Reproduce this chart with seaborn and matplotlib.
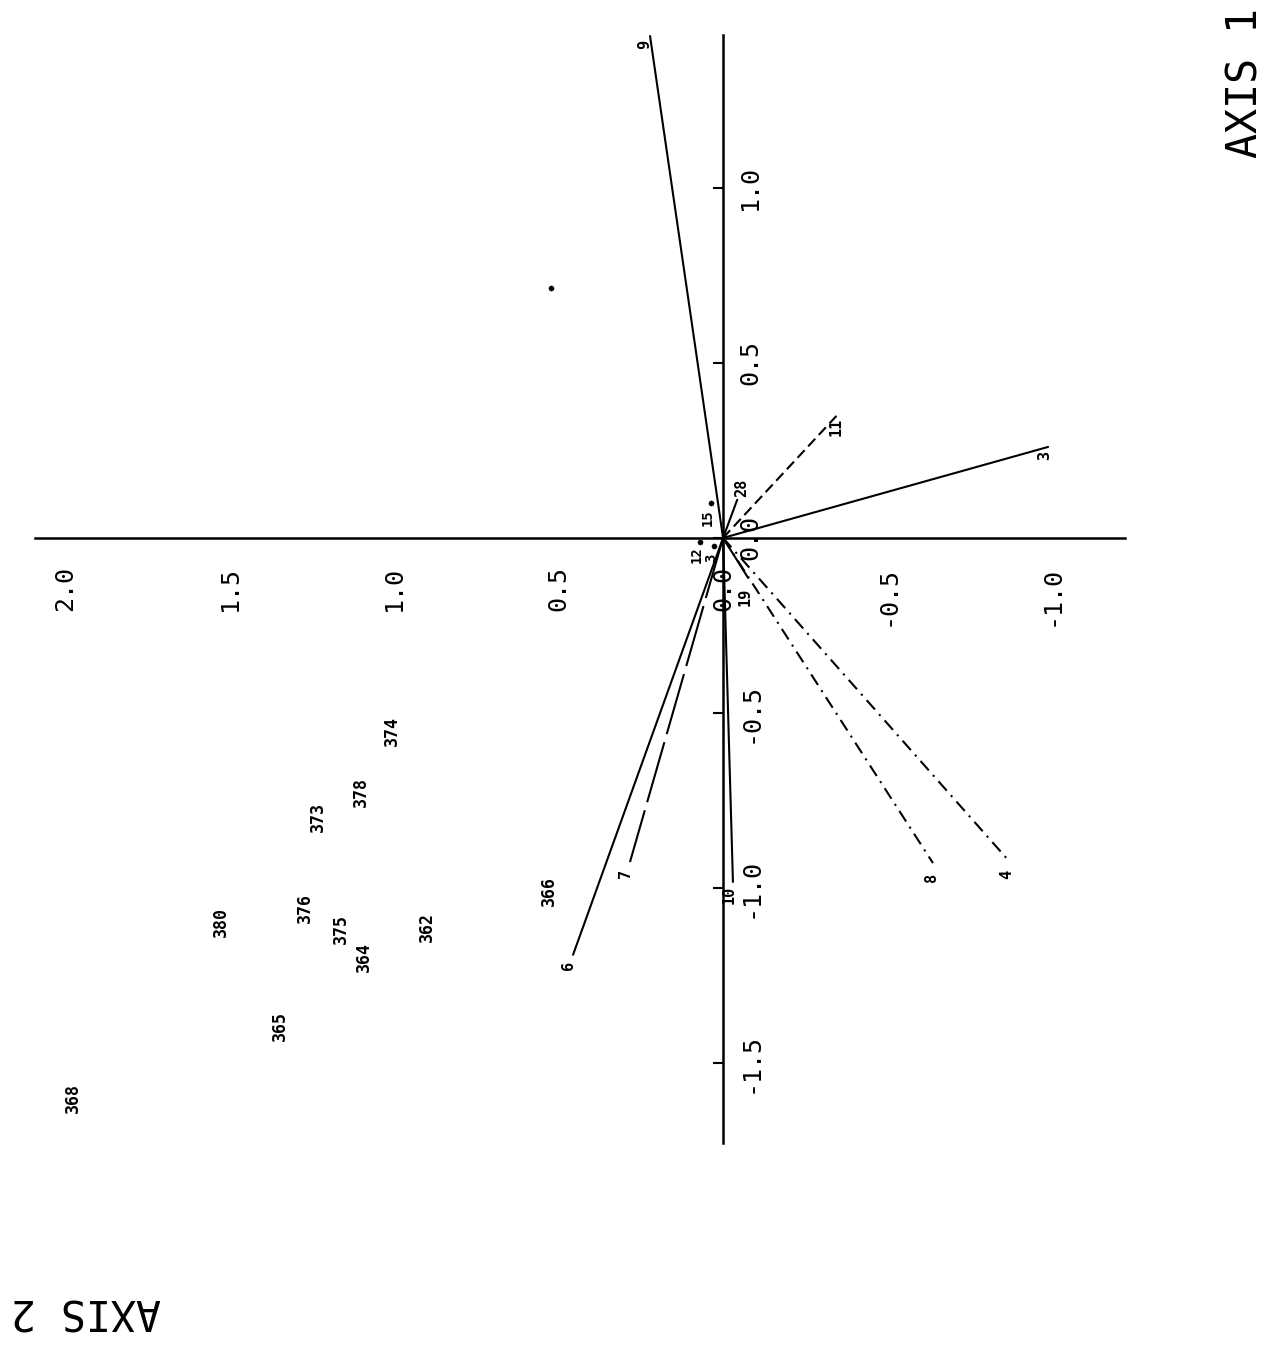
import matplotlib
matplotlib.use("Agg")
import matplotlib.pyplot as plt
import pandas as pd
import seaborn as sns

sns.set_style("white")
plt.rcParams['font.family'] = ['DejaVu Sans Mono', 'DejaVu Sans']
plt.rcParams['text.color'] = 'black'
plt.rcParams['xtick.color'] = 'black'
plt.rcParams['ytick.color'] = 'black'

# biplot (page turned on its side):
# axis 2 = horizontal line (grows to the left), axis 1 = vertical line
sample_ids = ["374", "378", "373", "366", "380", "376", "375", "362", "364", "365", "368"]
sample_ax2 = [1.006, 1.100, 1.231, 0.529, 1.526, 1.271, 1.161, 0.900, 1.091, 1.347, 1.976]
sample_ax1 = [-0.551, -0.726, -0.797, -1.009, -1.097, -1.057, -1.117, -1.111, -1.197, -1.394, -1.600]

# variable arrows
vec_ids = ["9", "11", "3", "28", "6", "7", "10", "8", "4", "19"]
vec_ax2 = [0.222, -0.347, -0.988, -0.043, 0.456, 0.283, -0.030, -0.638, -0.872, -0.076]
vec_ax1 = [1.434, 0.351, 0.260, 0.109, -1.191, -0.926, -0.983, -0.929, -0.926, -0.114]

# small points near the origin
pt_ids = ["15", "12", "3", ""]
pt_ax2 = [0.036, 0.070, 0.027, 0.523]
pt_ax1 = [0.100, -0.011, -0.023, 0.714]

ticks_ax2 = [2.0, 1.5, 1.0, 0.5, 0.0, -0.5, -1.0]
ticks_ax1 = [1.0, 0.5, 0.0, -0.5, -1.0, -1.5]

samples = pd.DataFrame({"id": sample_ids, "ax2": sample_ax2, "ax1": sample_ax1})
vectors = pd.DataFrame({"id": vec_ids, "ax2": vec_ax2, "ax1": vec_ax1})
points = pd.DataFrame({"id": pt_ids, "ax2": pt_ax2, "ax1": pt_ax1})

# line style and label offset (pixels) for each arrow
vec_style = {"9": "-", "11": (0, (5, 2.5)), "3": "-", "28": "-", "6": "-",
             "7": (0, (30, 4)), "10": "-", "8": (0, (6, 3, 1, 3)),
             "4": (0, (6, 3, 1, 3)), "19": "-"}
vec_off = {"9": (-5, -8), "11": (-1, -12), "3": (-3, -9), "28": (4, 12), "6": (-5, -11),
           "7": (-4, -11), "10": (-4, -13), "8": (-1, -14), "4": (-3, -12), "19": (-3, -19)}
pt_off = {"15": (-3, -15), "12": (-3, -13), "3": (-3, -12), "": (0, 0)}

fig = plt.figure(figsize=(12.81, 13.45), dpi=100)
ax = fig.add_axes([0, 0, 1, 1])
ax.set_xlim(2.198, -1.696)
ax.set_ylim(-2.306, 1.537)

# axes crossing at the origin
for s in ["left", "top"]:
    ax.spines[s].set_visible(False)
ax.spines["bottom"].set_position(("data", 0))
ax.spines["right"].set_position(("data", 0))
ax.spines["bottom"].set_bounds(-1.222, 2.091)
ax.spines["right"].set_bounds(-1.729, 1.437)
for s in ["bottom", "right"]:
    ax.spines[s].set_linewidth(1.8)
    ax.spines[s].set_color("black")

ax.yaxis.tick_right()
ax.set_xticks(ticks_ax2, labels=[f"{t:.1f}" for t in ticks_ax2], rotation=90)
ax.set_yticks(ticks_ax1, labels=[f"{t:.1f}" for t in ticks_ax1], rotation=90, va="center")
ax.tick_params(axis="x", direction="in", length=6.5, width=1.5, pad=20, labelsize=18)
ax.tick_params(axis="y", direction="in", length=7, width=1.5, pad=11, labelsize=18,
               right=True, left=False, labelright=True, labelleft=False)

# arrows
for _, r in vectors.iterrows():
    ax.plot([0, r.ax2], [0, r.ax1], color="black", lw=1.5, linestyle=vec_style[r.id])
    ax.annotate(r.id, (r.ax2, r.ax1), xytext=vec_off[r.id], textcoords="offset pixels",
                rotation=90, ha="center", va="center", fontsize=11, fontweight="bold")

# points
sns.scatterplot(data=points, x="ax2", y="ax1", color="black", s=14, edgecolor=None, ax=ax, legend=False)
for _, r in points.iterrows():
    if r.id:
        ax.annotate(r.id, (r.ax2, r.ax1), xytext=pt_off[r.id], textcoords="offset pixels",
                    rotation=90, ha="center", va="center", fontsize=10, fontweight="bold")

# sample scores drawn as their numbers
for _, r in samples.iterrows():
    ax.text(r.ax2, r.ax1, r.id, rotation=90, ha="center", va="center",
            fontsize=12, fontweight="bold")

ax.set_xlabel("")
ax.set_ylabel("")

fig.text(1245 / 1281, 1 - 83 / 1345, "AXIS 1", rotation=90, ha="center", va="center", fontsize=30)
fig.text(86 / 1281, 1 - 1311 / 1345, "AXIS 2", rotation=180, ha="center", va="center", fontsize=30)

fig.savefig("out.png", dpi=100)
